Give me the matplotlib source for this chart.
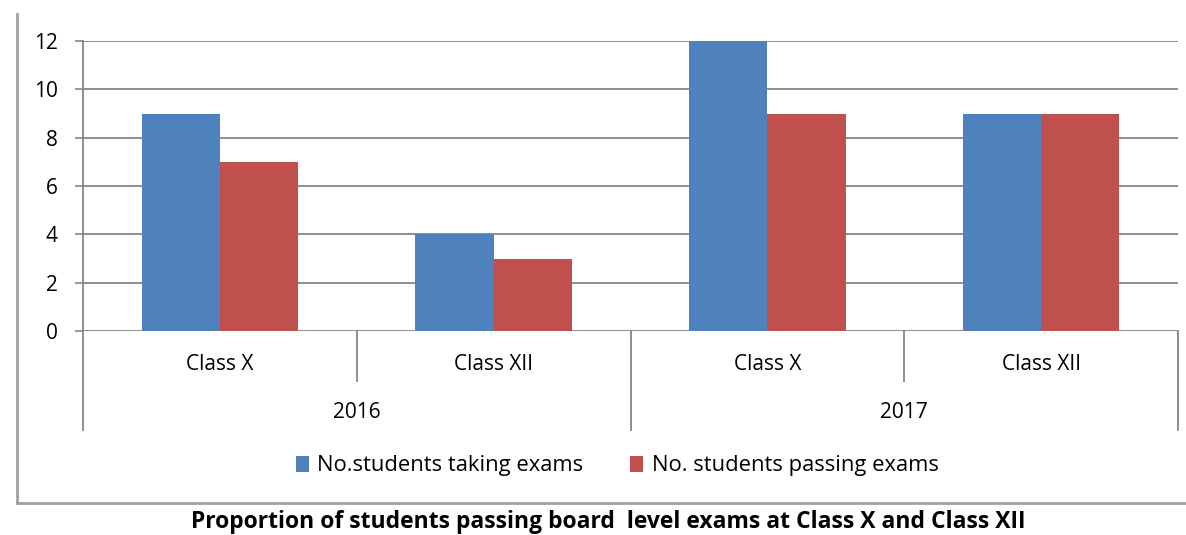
import matplotlib
matplotlib.use("Agg")
import matplotlib.pyplot as plt
from matplotlib.lines import Line2D
from matplotlib.patches import Patch

years = ["2016", "2017"]
classes = ["Class X", "Class XII", "Class X", "Class XII"]
taking = [9, 4, 12, 9]
passing = [7, 3, 9, 9]
series_names = ["No.students taking exams", "No. students passing exams"]
yticks = [0, 2, 4, 6, 8, 10, 12]
title = "Proportion of students passing board  level exams at Class X and Class XII"

plt.rcParams['font.family'] = ['Open Sans', 'DejaVu Sans']
W, H = 1186, 535
fig = plt.figure(figsize=(W / 100, H / 100), dpi=100)
fig.patch.set_facecolor("white")

L, R, T, B = 83, 1178, 41, 331
ax = fig.add_axes([L / W, 1 - B / H, (R - L) / W, (B - T) / H])

blue = "#4F81BD"
red = "#C0504D"
grid_c = "#868686"
n = len(classes)
bw = 1 / 3.5
xs = [i + 0.5 for i in range(n)]
ax.bar([x - bw / 2 for x in xs], taking, width=bw, color=blue, zorder=3)
ax.bar([x + bw / 2 for x in xs], passing, width=bw, color=red, zorder=3)

ax.set_xlim(0, n)
ax.set_ylim(0, 12)
ax.set_yticks(yticks)
ax.set_yticklabels([str(v) for v in yticks], fontsize=15, color="#000000")
ax.tick_params(axis="y", length=6, width=1.2, color=grid_c, pad=12)
ax.tick_params(axis="x", length=0)
ax.set_xticks([])
for v in yticks:
    ax.axhline(v, color=grid_c, lw=1.3, zorder=1)
for s in ["top", "right", "bottom"]:
    ax.spines[s].set_visible(False)
ax.spines["left"].set_color(grid_c)
ax.spines["left"].set_linewidth(1.3)

def ydata(pix):
    return -(pix - B) / (B - T) * 12

# multi-level category axis
for i in range(1, n):
    if i == n // 2:
        continue
    ax.plot([i, i], [0, ydata(381)], color=grid_c, lw=1.3, clip_on=False)
for i in [0, n // 2, n]:
    ax.plot([i, i], [0, ydata(430)], color=grid_c, lw=1.3, clip_on=False)
for x, c in zip(xs, classes):
    ax.text(x, ydata(364), c, ha="center", va="center", fontsize=15, clip_on=False)
per = n // len(years)
for j, yr in enumerate(years):
    ax.text(j * per + per / 2, ydata(413), yr, ha="center", va="center", fontsize=15, clip_on=False)

# legend
handles = [Patch(facecolor=blue, edgecolor="none"), Patch(facecolor=red, edgecolor="none")]
fig.legend(handles, series_names, loc="center", bbox_to_anchor=(617 / W, 1 - 466 / H),
           ncol=2, frameon=False, fontsize=15.8, handlelength=0.6, handleheight=0.7,
           handletextpad=0.4, columnspacing=2.1)

# outer border (left and bottom only)
fig.add_artist(Line2D([17 / W, 17 / W], [1 - 14 / H, 1 - 503 / H], color="#A0A0A0", lw=2))
fig.add_artist(Line2D([17 / W, 1.0], [1 - 503 / H, 1 - 503 / H], color="#A0A0A0", lw=2))

fig.text(608 / W, 1 - 522 / H, title, ha="center", va="center", fontsize=16.5, fontweight="bold")

fig.savefig("out.png", dpi=100)
